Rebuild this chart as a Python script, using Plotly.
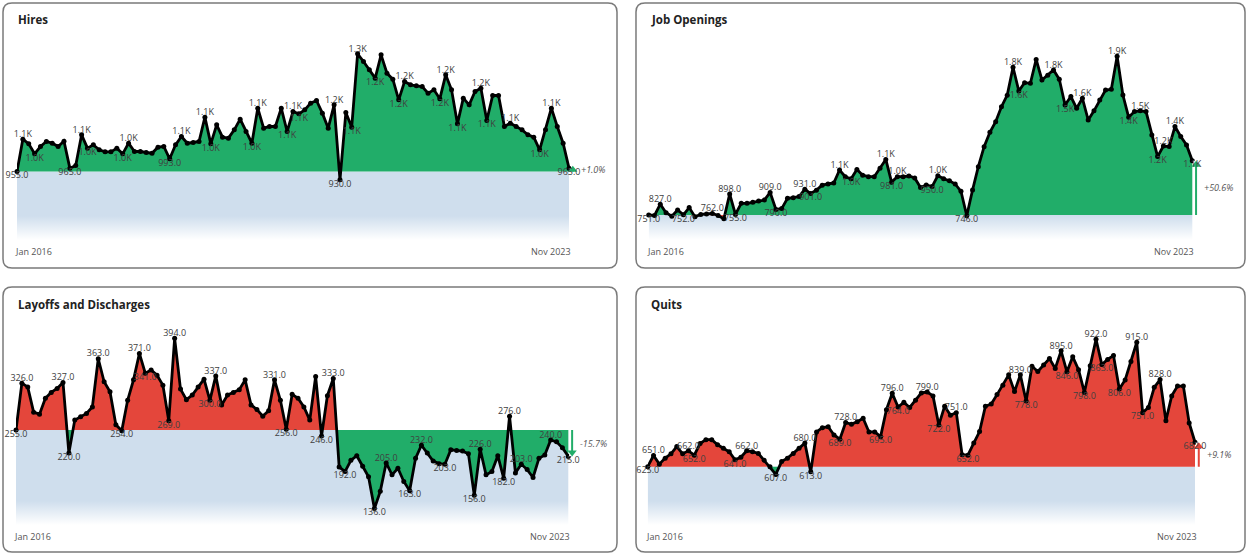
import pandas as pd
import plotly.graph_objects as go

W, H = 1247, 554
FONT = "Segoe UI, Open Sans, sans-serif"
GREEN = "#21ad69"
RED = "#e4463b"
BAND = "207,222,237"
LABEL = "#404040"

months = pd.date_range("2016-01-01", "2023-11-01", freq="MS")
month_labels = [m.strftime("%b %Y") for m in months]

hires = [955, 1052, 1038, 1008, 1030, 1045, 1040, 1030, 1046, 965,
         973, 1065, 1025, 1035, 1020, 1014, 1014, 1025, 1008, 1040,
         1015, 1015, 1012, 1010, 1028, 1030, 993, 1035, 1060, 1040,
         1042, 1045, 1118, 1038, 1095, 1058, 1055, 1080, 1112, 1075,
         1040, 1145, 1085, 1090, 1090, 1145, 1075, 1135, 1128, 1140,
         1160, 1168, 1130, 1085, 1155, 930, 1132, 1088, 1308, 1285,
         1260, 1235, 1305, 1250, 1232, 1170, 1225, 1215, 1212, 1210,
         1190, 1200, 1173, 1245, 1200, 1098, 1175, 1155, 1195, 1205,
         1108, 1183, 1183, 1090, 1100, 1090, 1080, 1065, 1058, 1020,
         1080, 1145, 1090, 1040, 965]

job_openings = [751, 748, 827, 767, 743, 786, 752, 803, 739, 755,
                758, 762, 748, 724, 898, 755, 833, 833, 840, 849,
                856, 909, 790, 796, 868, 872, 880, 931, 901, 925,
                960, 968, 975, 1066, 1019, 1005, 1070, 1030, 1019, 1019,
                1078, 1140, 981, 1019, 1019, 1024, 1010, 944, 961, 950,
                1026, 1005, 990, 968, 917, 746, 926, 1089, 1229, 1330,
                1404, 1509, 1590, 1785, 1619, 1677, 1673, 1840, 1696, 1730,
                1766, 1701, 1521, 1580, 1498, 1568, 1416, 1480, 1556, 1626,
                1631, 1862, 1591, 1435, 1475, 1480, 1475, 1311, 1160, 1234,
                1230, 1370, 1300, 1241, 1131]

layoffs = [255, 326, 320, 282, 279, 303, 312, 318, 327, 220,
           270, 275, 280, 290, 363, 328, 313, 263, 254, 300,
           331, 371, 341, 346, 338, 323, 269, 394, 317, 301,
           308, 320, 332, 300, 337, 293, 308, 312, 316, 331,
           293, 286, 276, 284, 331, 300, 256, 309, 303, 290,
           270, 336, 246, 307, 333, 199, 192, 209, 216, 200,
           184, 136, 162, 205, 187, 197, 177, 163, 212, 232,
           220, 208, 204, 203, 225, 224, 223, 219, 156, 226,
           187, 192, 216, 182, 276, 190, 203, 195, 183, 212,
           217, 240, 237, 228, 215]

quits = [625, 651, 631, 645, 655, 672, 655, 662, 652, 679,
         688, 688, 676, 668, 660, 641, 647, 662, 660, 656,
         640, 625, 607, 637, 645, 656, 668, 680, 613, 706,
         716, 718, 699, 689, 728, 724, 730, 738, 706, 706,
         695, 758, 796, 764, 775, 763, 780, 797, 799, 790,
         722, 766, 745, 751, 653, 652, 680, 707, 766, 771,
         793, 815, 839, 800, 839, 778, 859, 847, 862, 877,
         854, 895, 846, 881, 851, 798, 860, 922, 863, 875,
         884, 806, 827, 870, 915, 751, 763, 810, 828, 732,
         790, 813, 813, 727, 682]

titles = ["Hires", "Job Openings", "Layoffs and Discharges", "Quits"]
series = [hires, job_openings, layoffs, quits]
good_when_up = [True, True, False, False]

# pixel layout of each card: frame box, first/last point x, plot y span, value range
layout_px = [
    dict(box=(3, 3, 617, 268), xpx=(17, 569), ypx=(30, 240), yrange=(749.5, 1379.5)),
    dict(box=(636, 3, 1245, 268), xpx=(648.7, 1192.3), ypx=(30, 240), yrange=(576, 2046)),
    dict(box=(3, 287, 617, 552), xpx=(16, 568.3), ypx=(315, 525), yrange=(111, 429.3)),
    dict(box=(636, 287, 1245, 552), xpx=(647.7, 1195), ypx=(315, 525), yrange=(489.2, 978.5)),
]
X_PAD = 1.5  # room to the right of the last month for the change arrow


def fmt(v):
    return f"{v / 1000:.1f}K" if v >= 1000 else f"{v:.1f}"


def px2paper_x(px):
    return px / W


def px2paper_y(py):
    return 1 - py / H


def rounded_box(x0, y0, x1, y1, r):
    def P(x, y):
        return f"{px2paper_x(x):.5f},{px2paper_y(y):.5f}"
    return (f"M {P(x0 + r, y0)} L {P(x1 - r, y0)} Q {P(x1, y0)} {P(x1, y0 + r)} "
            f"L {P(x1, y1 - r)} Q {P(x1, y1)} {P(x1 - r, y1)} "
            f"L {P(x0 + r, y1)} Q {P(x0, y1)} {P(x0, y1 - r)} "
            f"L {P(x0, y0 + r)} Q {P(x0, y0)} {P(x0 + r, y0)} Z")


def pick_labels(vals, xp, yp):
    """Label local peaks above and troughs below, skipping ones that collide."""
    n = len(vals)
    cands = []
    for i in range(n):
        if i == 0 or i == n - 1:
            cands.append((1e9, i, "below"))
            continue
        a, b, c = vals[i - 1], vals[i], vals[i + 1]
        if b >= a and b >= c:
            side = "above"
        elif b <= a and b <= c:
            side = "below"
        else:
            continue
        cands.append((abs(yp[i] - (yp[i - 1] + yp[i + 1]) / 2), i, side))
    cands.sort(reverse=True)
    boxes, chosen = [], {}
    for _, i, side in cands:
        w = 5.3 * len(fmt(vals[i])) + 4
        x0, x1 = xp[i] - w / 2, xp[i] + w / 2
        if side == "above":
            y0, y1 = yp[i] - 19, yp[i] - 2
        else:
            y0, y1 = yp[i] + 2, yp[i] + 19
        if any(x0 < bx1 and bx0 < x1 and y0 < by1 and by0 < y1 for bx0, by0, bx1, by1 in boxes):
            continue
        boxes.append((x0, y0, x1, y1))
        chosen[i] = side
    return chosen


fig = go.Figure()
shapes, annotations, axes = [], [], {}
n = len(months)
idx = list(range(n))

for k, (title, vals, good_up, geo) in enumerate(zip(titles, series, good_when_up, layout_px), start=1):
    sfx = "" if k == 1 else str(k)
    xa, ya = "x" + sfx, "y" + sfx
    base = vals[0]
    ylo, yhi = geo["yrange"]
    pt, pb = geo["ypx"]
    x0px, x1px = geo["xpx"]
    dx = (x1px - x0px) / (n - 1)
    up_col, down_col = (GREEN, RED) if good_up else (RED, GREEN)
    per_px = (yhi - ylo) / (pb - pt)

    axes["xaxis" + sfx] = dict(domain=[px2paper_x(x0px), px2paper_x(x1px + X_PAD * dx)],
                               range=[0, n - 1 + X_PAD], anchor=ya, visible=False, fixedrange=True)
    axes["yaxis" + sfx] = dict(domain=[px2paper_y(pb), px2paper_y(pt)],
                               range=[ylo, yhi], anchor=xa, visible=False, fixedrange=True)

    def to_py(v):
        return pt + (yhi - v) / per_px

    base_py = to_py(base)
    fade = min(1.0, 24 / (pb - base_py))

    # pale band under the baseline, fading out towards the bottom
    fig.add_trace(go.Scatter(
        x=[0, n - 1, n - 1, 0, 0], y=[base, base, ylo, ylo, base],
        mode="lines", line=dict(width=0), fill="toself",
        fillcolor=f"rgba({BAND},1)",
        fillgradient=dict(type="vertical", start=ylo, stop=base,
                          colorscale=[[0, f"rgba({BAND},0)"], [fade, f"rgba({BAND},1)"],
                                      [1, f"rgba({BAND},1)"]]),
        xaxis=xa, yaxis=ya, hoverinfo="skip", showlegend=False))

    # split the area between line and baseline at every crossing
    xs, ys = [], []
    for i in range(n):
        xs.append(i)
        ys.append(vals[i])
        if i < n - 1:
            a, b = vals[i] - base, vals[i + 1] - base
            if a * b < 0:
                xs.append(i + a / (a - b))
                ys.append(base)
    upper = [max(v, base) for v in ys]
    lower = [min(v, base) for v in ys]
    for part, col in ((upper, up_col), (lower, down_col)):
        fig.add_trace(go.Scatter(
            x=xs + [xs[-1], xs[0]], y=part + [base, base], mode="lines",
            line=dict(width=0), fill="toself", fillcolor=col,
            xaxis=xa, yaxis=ya, hoverinfo="skip", showlegend=False))

    fig.add_trace(go.Scatter(
        x=idx, y=vals, mode="lines+markers",
        line=dict(color="black", width=2.8), marker=dict(color="black", size=5),
        cliponaxis=False, xaxis=xa, yaxis=ya, showlegend=False,
        customdata=month_labels, hovertemplate="%{customdata}: %{y}<extra></extra>"))

    # change arrow from the first value to the last, with a white halo
    last = vals[-1]
    sign = 1 if last >= base else -1
    col = up_col if sign > 0 else down_col
    ax_x = n - 1 + 0.65
    head_y = last - sign * min(4 * per_px, abs(last - base) / 2)
    fig.add_trace(go.Scatter(
        x=[ax_x, ax_x], y=[base, last], mode="lines", line=dict(color="white", width=6),
        cliponaxis=False, xaxis=xa, yaxis=ya, hoverinfo="skip", showlegend=False))
    fig.add_trace(go.Scatter(
        x=[ax_x, ax_x], y=[base, head_y], mode="lines", line=dict(color=col, width=2),
        cliponaxis=False, xaxis=xa, yaxis=ya, hoverinfo="skip", showlegend=False))
    fig.add_trace(go.Scatter(
        x=[ax_x], y=[head_y], mode="markers", cliponaxis=False,
        marker=dict(symbol="triangle-up" if sign > 0 else "triangle-down", size=8, color=col,
                    line=dict(width=0)),
        xaxis=xa, yaxis=ya, hoverinfo="skip", showlegend=False))
    pct = (last / base - 1) * 100
    annotations.append(dict(xref=xa, yref=ya, x=n - 1, y=(base + last) / 2, xanchor="left",
                            yanchor="middle", xshift=10, text=f"<i>{pct:+.1f}%</i>",
                            showarrow=False, font=dict(family=FONT, size=9, color="#555")))

    xp = [x0px + i * dx for i in idx]
    yp = [to_py(v) for v in vals]
    chosen = pick_labels(vals, xp, yp)
    for side, pos in (("above", "top center"), ("below", "bottom center")):
        ii = sorted(i for i, s in chosen.items() if s == side)
        fig.add_trace(go.Scatter(
            x=ii, y=[vals[i] for i in ii], text=[fmt(vals[i]) for i in ii],
            mode="text", textposition=pos, cliponaxis=False,
            textfont=dict(family=FONT, size=9, color=LABEL),
            xaxis=xa, yaxis=ya, hoverinfo="skip", showlegend=False))

    # first / last month
    for i, anchor, shift in ((0, "left", -4), (n - 1, "right", 4)):
        annotations.append(dict(xref=xa, yref="paper", x=i, y=px2paper_y(pb + 11),
                                xanchor=anchor, yanchor="middle", xshift=shift,
                                text=month_labels[i], showarrow=False,
                                font=dict(family=FONT, size=9, color="#555")))

    bx0, by0, bx1, by1 = geo["box"]
    annotations.append(dict(xref="paper", yref="paper", x=px2paper_x(bx0 + 13),
                            y=px2paper_y(by0 + 17), xanchor="left", yanchor="middle",
                            text=f"<b>{title}</b>", showarrow=False,
                            font=dict(family=FONT, size=11.5, color="#222")))
    shapes.append(dict(type="path", xref="paper", yref="paper",
                       path=rounded_box(bx0, by0, bx1, by1, 9),
                       line=dict(color="#7a7a7a", width=1.5), layer="below"))

fig.update_layout(
    width=W, height=H, margin=dict(l=0, r=0, t=0, b=0),
    paper_bgcolor="white", plot_bgcolor="rgba(0,0,0,0)",
    shapes=shapes, annotations=annotations, showlegend=False, **axes)

fig.write_html("out.html")
